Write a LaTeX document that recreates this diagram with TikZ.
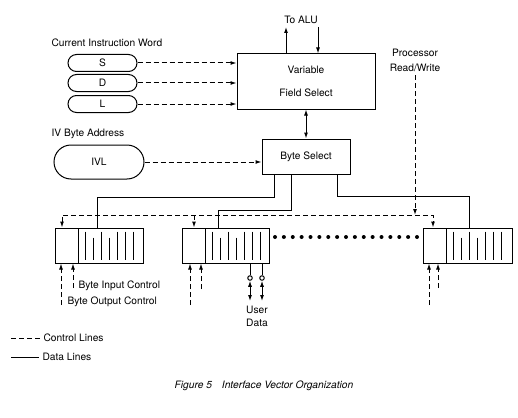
\documentclass[tikz,border=0pt]{standalone}
\usepackage{fontspec}
\setmainfont{TeX Gyre Heros}
\usetikzlibrary{arrows.meta}
\begin{document}
\begin{tikzpicture}[x=1pt,y=-1pt,
  every node/.style={font=\fontsize{10.2}{12}\selectfont},
  box/.style={draw, line width=1pt, inner sep=0pt},
  pill/.style={draw, line width=1pt, inner sep=0pt},
  ctrl/.style={line width=1pt, dash pattern=on 5pt off 3pt},
  data/.style={line width=1pt},
  >={Latex[length=6pt,width=4pt]}]
\useasboundingbox (0,0) rectangle (518,417);

% instruction word fields
\node[anchor=west] (ciw) at (48,43) {Current Instruction Word};
\node[pill, rounded corners=8.5pt, minimum width=69pt, minimum height=17pt] (s) at (102.5,63) {S};
\node[pill, rounded corners=8.5pt, minimum width=69pt, minimum height=17pt] (d) at (102.5,83) {D};
\node[pill, rounded corners=8.5pt, minimum width=69pt, minimum height=17pt] (l) at (102.5,104) {L};

% main boxes
\node[box, minimum width=138pt, minimum height=55pt, align=center] (vfs) at (306,81.5) {Variable\\[11pt]Field Select};
\node[box, minimum width=88pt, minimum height=35pt] (bs) at (306,156.5) {Byte Select};

\node[anchor=west] (iba) at (48,134) {IV Byte Address};
\node[pill, rounded corners=17pt, minimum width=90pt, minimum height=34pt] (ivl) at (99,162) {IVL};

\node (alu) at (301,20) {To ALU};
\node[align=center] (prw) at (415,60.5) {Processor\\[3pt]Read/Write};

% control arrows into boxes
\draw[ctrl,->] (s.east) -- (s.east -| vfs.west);
\draw[ctrl,->] (d.east) -- (d.east -| vfs.west);
\draw[ctrl,->] (l.east) -- (l.east -| vfs.west);
\draw[ctrl,->] (ivl.east) -- (ivl.east -| bs.west);

% ALU
\coordinate (a1) at (286,27);
\coordinate (a2) at (318,27);
\draw[data,->] (a1 |- vfs.north) -- (a1);
\draw[data,->] (a2) -- (a2 |- vfs.north);
\draw[data,<->] (vfs.south) -- (bs.north);

% registers
\node[box, minimum width=23pt, minimum height=35pt] (lc) at (66.5,245.5) {};
\node[box, minimum width=65pt, minimum height=35pt] (ld) at (110.5,245.5) {};
\node[box, minimum width=23pt, minimum height=35pt] (mc) at (193.5,245.5) {};
\node[box, minimum width=64pt, minimum height=35pt] (md) at (237,245.5) {};
\node[box, minimum width=23pt, minimum height=35pt] (rc) at (434.5,245.5) {};
\node[box, minimum width=66pt, minimum height=35pt] (rd) at (479,245.5) {};
\foreach \r in {ld,md,rd}
  \foreach \i/\s in {1/4,2/10,3/4,4/10,5/4,6/4,7/4}
    \draw[line width=1pt] ([xshift=\i*8pt, yshift=-\s*1pt]\r.north west) -- ([xshift=\i*8pt, yshift=4pt]\r.south west);

% dots
\foreach \i in {0,...,16} \fill (275+\i*8.875,237) circle (2pt);

% control bus
\coordinate (busL) at (62,215);
\coordinate (busM) at (194,215);
\coordinate (busR) at (433,215);
\draw[ctrl,<->] (busL |- lc.north) -- (busL) -- (busR) -- (busR |- rc.north);
\draw[ctrl,->] (busM) -- (busM |- mc.north);
\draw[ctrl,->] (prw.south) -- (prw.south |- busL);

% data lines
\coordinate (j1) at (97,197);
\coordinate (j2) at (218,210);
\coordinate (j3) at (469,196);
\draw[data] ([xshift=13pt]bs.south west) |- (j1) -- (j1 |- ld.north);
\draw[data] ([xshift=30pt]bs.south west) |- (j2) -- (j2 |- md.north);
\draw[data] ([xshift=76pt]bs.south west) |- (j3) -- (j3 |- rd.north);

% input/output controls
\coordinate (lo) at (61,305); \coordinate (li) at (73,288);
\coordinate (mo) at (190,305); \coordinate (mi) at (201,289);
\coordinate (ro) at (429,305); \coordinate (ri) at (438,288);
\draw[ctrl,->] (lo) -- (lo |- lc.south);
\draw[ctrl,->] (li) -- (li |- lc.south);
\draw[ctrl,->] (mo) -- (mo |- mc.south);
\draw[ctrl,->] (mi) -- (mi |- mc.south);
\draw[ctrl,->] (ro) -- (ro |- rc.south);
\draw[ctrl,->] (ri) -- (ri |- rc.south);
\node[anchor=west] (bic) at (75,286) {Byte Input Control};
\node[anchor=west] (boc) at (64,302) {Byte Output Control};

% user data
\node[circle, draw, inner sep=0pt, minimum size=4.5pt, line width=1pt] (u1) at (250,278) {};
\node[circle, draw, inner sep=0pt, minimum size=4.5pt, line width=1pt] (u2) at (262,278) {};
\coordinate (u1e) at (250,301);
\coordinate (u2e) at (262,301);
\draw[data] (u1 |- md.south) -- (u1.north);
\draw[data] (u2 |- md.south) -- (u2.north);
\draw[data,<->] (u1.south) -- (u1e);
\draw[data,<->] (u2.south) -- (u2e);
\node[align=center] (ud) at (257,316.5) {User\\[1pt]Data};

% legend
\node[anchor=west] (cl) at (40,338) {Control Lines};
\draw[ctrl] (11,338) -- (cl.west);
\node[anchor=west] (dl) at (39,357) {Data Lines};
\draw[data] (11,357) -- (dl.west);

% caption
\node (cap) at (264,386) {\itshape Figure 5\hspace{10pt}Interface Vector Organization};
\end{tikzpicture}
\end{document}
